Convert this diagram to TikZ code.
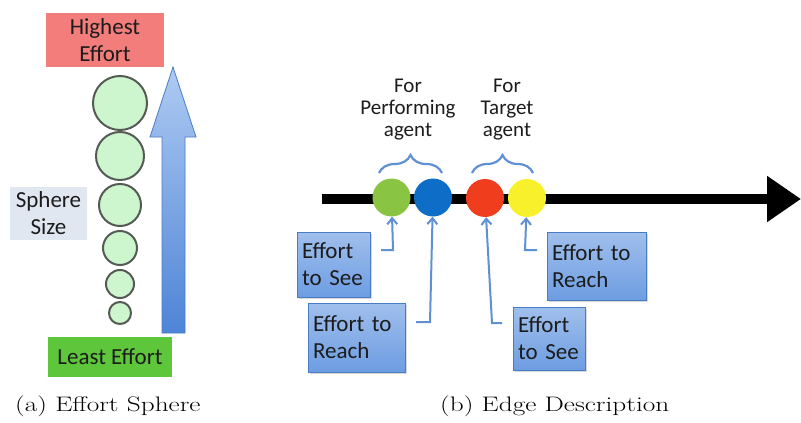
\documentclass[tikz,border=0pt]{standalone}
\usepackage{fontspec}
\newfontfamily\slidefont{Carlito}
\usetikzlibrary{arrows.meta,positioning,calc,decorations.pathreplacing,shadows}
\definecolor{Ink}{HTML}{1C1C1C}
\definecolor{HighRed}{HTML}{F37D7B}
\definecolor{LowGreen}{HTML}{5DC63B}
\definecolor{SizeGray}{HTML}{E1E7F1}
\definecolor{BallFill}{HTML}{CDF5CE}
\definecolor{BallRim}{HTML}{555A55}
\definecolor{ArrowTop}{HTML}{AECBF2}
\definecolor{ArrowLow}{HTML}{4E84D6}
\definecolor{Pointer}{HTML}{5F90D3}
\definecolor{BoxFill}{HTML}{6D9DE2}
\definecolor{BoxRim}{HTML}{4A7CC6}
\definecolor{DotGreen}{HTML}{8AC443}
\definecolor{DotBlue}{HTML}{0E6DC6}
\definecolor{DotRed}{HTML}{EF3D1D}
\definecolor{DotYellow}{HTML}{F9F02C}
\tikzset{
  >=Latex,
  slide/.style={font=\slidefont\fontsize{23}{27}\selectfont,text=Ink,align=center},
  tag/.style={slide,rectangle,inner sep=0pt},
  ball/.style={circle,draw=BallRim,fill=BallFill,line width=2pt,inner sep=0pt},
  dot/.style={circle,draw=none,minimum size=38pt,inner sep=0pt},
  effbox/.style={slide,rectangle,draw=BoxRim,line width=.8pt,top color=BoxFill!65!white,bottom color=BoxFill,
    align=left,inner xsep=5pt,inner ysep=0pt,drop shadow={opacity=.3,shadow xshift=2pt,shadow yshift=-2pt}},
  pointer/.style={-{Straight Barb[length=6pt,width=10pt]},draw=Pointer,line width=2pt},
  bracket/.style={decorate,decoration={brace,amplitude=18pt,aspect=.5},draw=Pointer,line width=2.2pt},
  caption/.style={font=\fontsize{21}{25}\selectfont,anchor=base west,inner sep=0pt}
}
\begin{document}
\begin{tikzpicture}[x=1pt,y=-1pt]
  \useasboundingbox (0,0) rectangle (801,423);

  % (a) effort sphere
  \node[tag,fill=HighRed,minimum width=118pt,minimum height=54pt] (high) at (105,40) {Highest\\Effort};
  \node[tag,fill=SizeGray,minimum width=77pt,minimum height=53pt] (size) at (48.5,213.5) {Sphere\\Size};
  \node[tag,fill=LowGreen,minimum width=124pt,minimum height=40pt] (least) at (110,357) {Least Effort};
  \foreach \y/\d [count=\i] in {103/54,156/48,205/42,248/34,284/28,313/22}
    \node[ball,minimum size=\d pt] (ball\i) at (120,\y) {};
  \shade[top color=ArrowTop,bottom color=ArrowLow,draw=BoxRim,line width=.8pt]
    (162,333) -- (162,137) -- (150,137) -- (173,67) -- (196,137) -- (185,137) -- (185,333) -- cycle;

  % (b) edge description
  \coordinate (start) at (322,199);
  \coordinate (end) at (801,199);
  \draw[line width=10pt,-{Triangle[length=34pt,width=44pt]}] (start) -- (end);
  \node[dot,fill=DotGreen] (gdot) at (391.5,197.5) {};
  \node[dot,fill=DotBlue] (bdot) at (433,197.5) {};
  \node[dot,fill=DotRed] (rdot) at (485,198) {};
  \node[dot,fill=DotYellow] (ydot) at (527,198) {};

  \draw[bracket] (379,173) -- (442,173);
  \draw[bracket] (472,173) -- (533,173);
  \node[slide,font=\slidefont\fontsize{21}{22}\selectfont] (perf) at (408,110) {For\\Performing\\agent};
  \node[slide,font=\slidefont\fontsize{21}{22}\selectfont] (targ) at (507,110) {For\\Target\\agent};

  \node[effbox,text width=63pt,minimum height=65pt] (seeA) at (333.5,264.5) {Effort\\to See};
  \node[effbox,text width=87pt,minimum height=69pt] (reachA) at (356.5,337.5) {Effort to\\Reach};
  \node[effbox,text width=62pt,minimum height=63pt] (seeB) at (549,338.5) {Effort\\to See};
  \node[effbox,text width=89pt,minimum height=68pt] (reachB) at (596.5,266) {Effort to\\Reach};

  \coordinate (gtail) at (381,250);
  \coordinate (btail) at (416,322);
  \coordinate (rtail) at (502,323);
  \coordinate (ytail) at (537,250);
  \draw[pointer] (gtail) -- ++(12,0) -- (gdot);
  \draw[pointer] (btail) -- ++(14,0) -- (bdot);
  \draw[pointer] (rtail) -- ++(-10,0) -- (rdot);
  \draw[pointer] (ytail) -- ++(-12,0) -- (ydot);

  % captions
  \node[caption] (capa) at (15,411) {\scalebox{1.3}[1]{(a) Effort Sphere}};
  \node[caption] (capb) at (440,411) {\scalebox{1.3}[1]{(b) Edge Description}};
\end{tikzpicture}
\end{document}
